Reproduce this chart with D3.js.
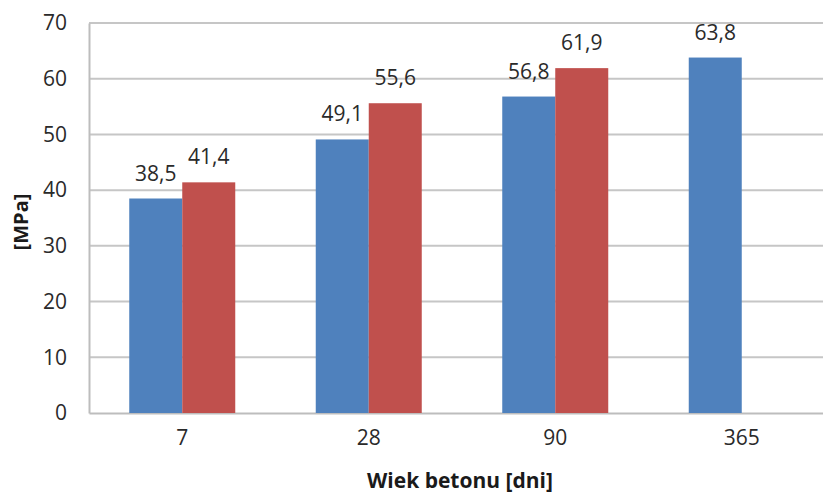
<!DOCTYPE html>
<html><head><meta charset="utf-8">
<script src="https://cdn.jsdelivr.net/npm/d3@7"></script>
<style>
html,body{margin:0;padding:0;background:#fff;}
svg{display:block;font-family:"Open Sans",sans-serif;}
</style></head>
<body>
<svg id="chart" width="823" height="494"></svg>
<script>
const categories = ["7", "28", "90", "365"];
const seriesA = [38.5, 49.1, 56.8, 63.8];
const seriesB = [41.4, 55.6, 61.9, null];
const yTicks = [0, 10, 20, 30, 40, 50, 60, 70];
const seriesNames = ["A", "B"];
const colors = ["#4F81BD", "#C0504D"];

const svg = d3.select("#chart");
const margin = {left: 89, top: 23, right: 835, bottom: 413};

const x = d3.scaleBand().domain(categories).range([margin.left, margin.right]).paddingInner(0).paddingOuter(0);
const x1 = d3.scaleBand().domain(seriesNames).range([0, 106]);
const y = d3.scaleLinear().domain([0, 70]).range([margin.bottom, margin.top]);

const fmt = v => d3.format(".1f")(v).replace(".", ",");

// gridlines
svg.append("g").selectAll("line").data(yTicks.filter(t => t > 0)).join("line")
  .attr("x1", margin.left).attr("x2", 823)
  .attr("y1", d => y(d)).attr("y2", d => y(d))
  .attr("stroke", "#c6c6c6").attr("stroke-width", 2);

// y axis
const yAxis = d3.axisLeft(y).tickValues(yTicks).tickSize(0).tickPadding(22);
const gy = svg.append("g").attr("transform", `translate(${margin.left},0)`).call(yAxis);
gy.select(".domain").attr("stroke", "#bdbdbd").attr("stroke-width", 2);
gy.selectAll("text").attr("font-size", 21).attr("fill", "#2a2a2a").attr("font-family", "Open Sans");

// x axis
const xAxis = d3.axisBottom(x).tickSize(0).tickPadding(17);
const gx = svg.append("g").attr("transform", `translate(0,${margin.bottom})`).call(xAxis);
gx.select(".domain").attr("stroke", "#bdbdbd").attr("stroke-width", 2);
gx.selectAll("text").attr("font-size", 21).attr("fill", "#2a2a2a").attr("font-family", "Open Sans");

// bars
const data = [];
categories.forEach((c, i) => {
  [seriesA[i], seriesB[i]].forEach((v, j) => {
    if (v != null) data.push({c, s: seriesNames[j], v, color: colors[j]});
  });
});
const gBars = svg.append("g");
const bx = d => x(d.c) + (x.bandwidth() - 106) / 2 + x1(d.s);
gBars.selectAll("rect").data(data).join("rect")
  .attr("x", bx).attr("width", x1.bandwidth())
  .attr("y", d => y(d.v)).attr("height", d => y(0) - y(d.v))
  .attr("fill", d => d.color);

// data labels
svg.append("g").selectAll("text").data(data).join("text")
  .attr("x", d => bx(d) + x1.bandwidth() / 2)
  .attr("y", d => y(d.v) - 18)
  .attr("text-anchor", "middle")
  .attr("font-size", 21).attr("fill", "#2a2a2a")
  .text(d => fmt(d.v));

// axis titles
svg.append("text").attr("x", 460).attr("y", 488).attr("text-anchor", "middle")
  .attr("font-size", 21).attr("font-weight", "bold").attr("fill", "#1a1a1a")
  .text("Wiek betonu [dni]");
svg.append("text").attr("transform", "translate(28,222) rotate(-90)").attr("text-anchor", "middle")
  .attr("font-size", 20).attr("font-weight", "bold").attr("fill", "#1a1a1a")
  .text("[MPa]");
</script>
</body></html>
